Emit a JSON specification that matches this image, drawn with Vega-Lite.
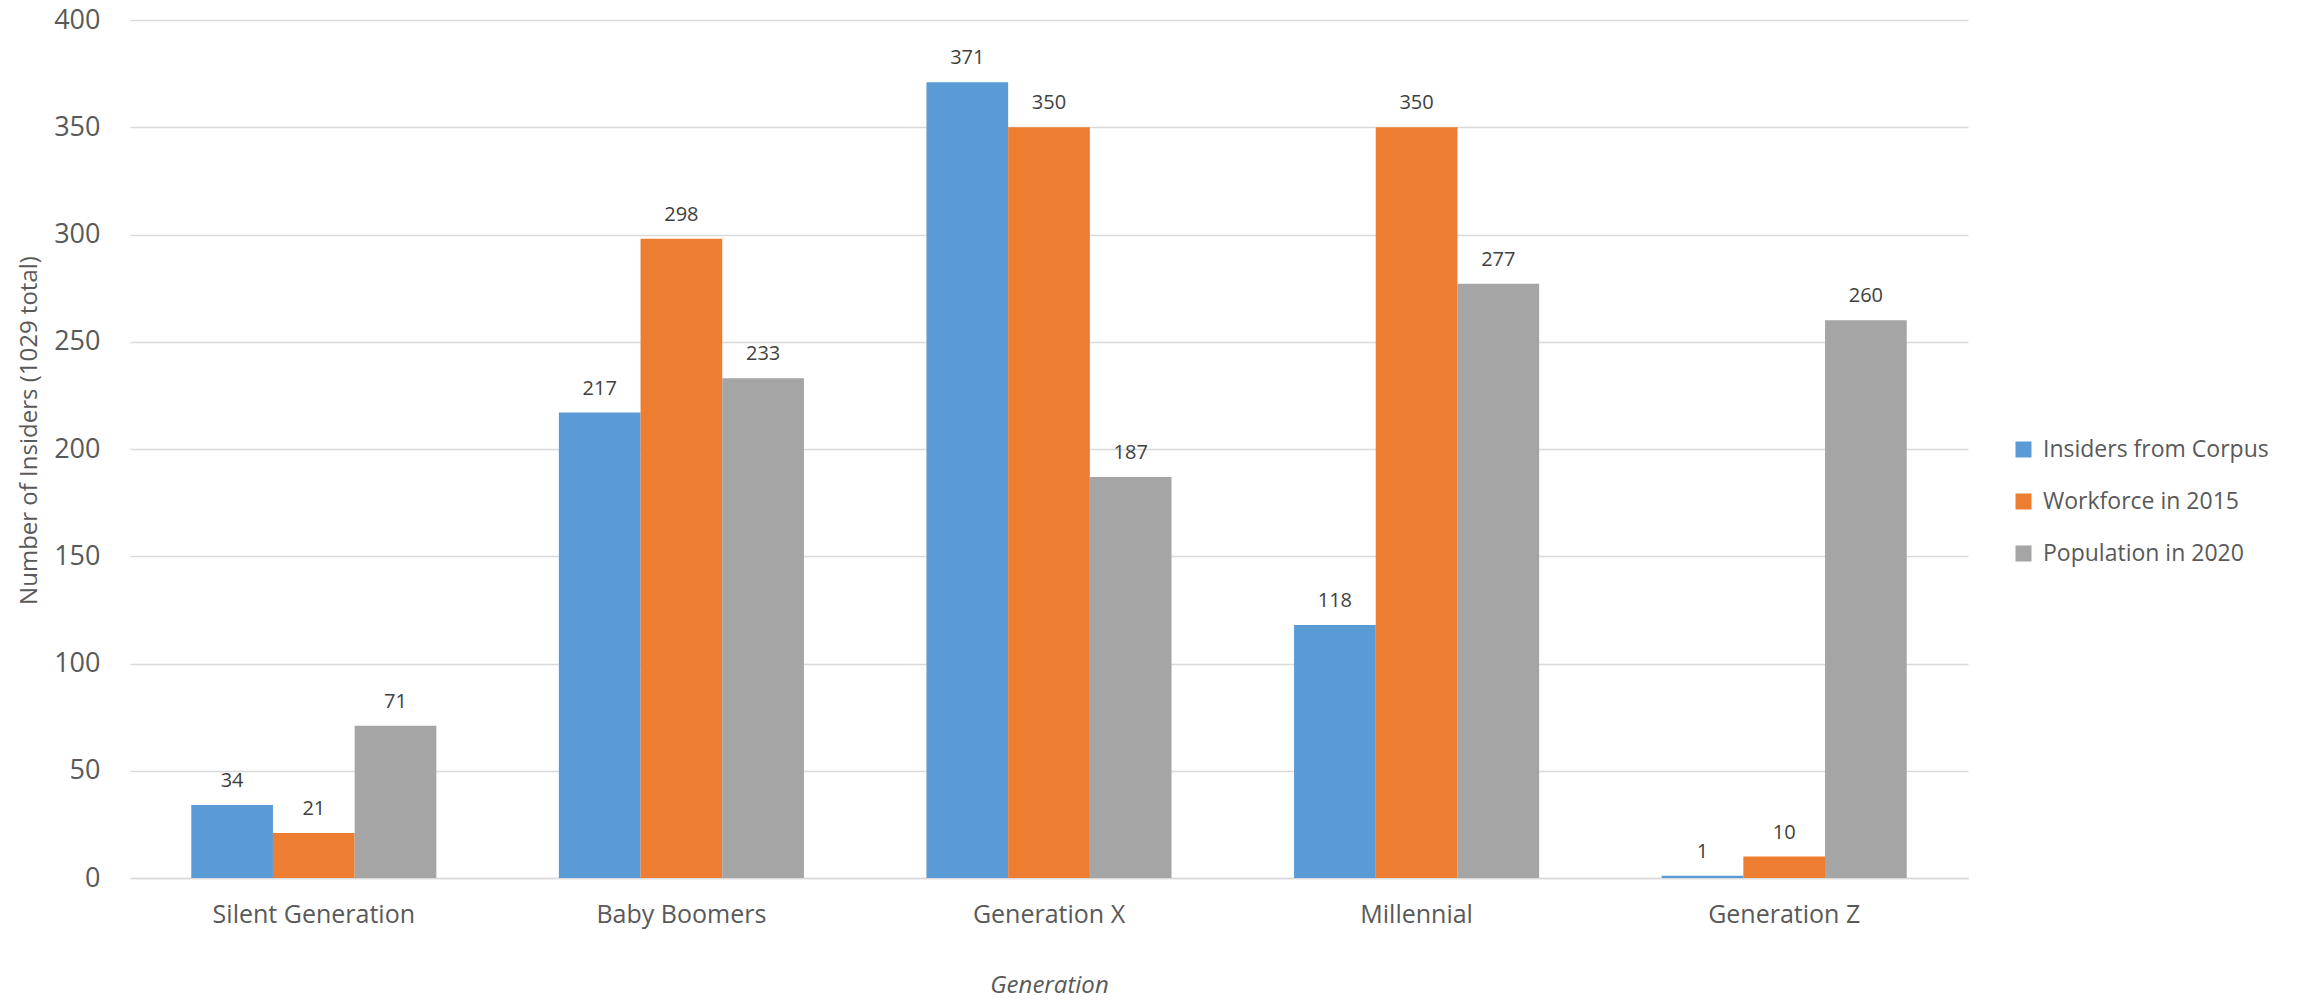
{
  "$schema": "https://vega.github.io/schema/vega-lite/v6.json",
  "autosize": "none",
  "width": 1838,
  "height": 858,
  "padding": {"left": 130, "top": 20, "right": 347, "bottom": 124},
  "background": "white",
  "config": {
    "view": {"stroke": null},
    "font": "Open Sans",
    "axis": {"labelColor": "#595959", "titleColor": "#595959", "labelFont": "Open Sans", "titleFont": "Open Sans"}
  },
  "data": {
    "values": [
      {"generation": "Silent Generation", "series": "Insiders from Corpus", "value": 34},
      {"generation": "Silent Generation", "series": "Workforce in 2015", "value": 21},
      {"generation": "Silent Generation", "series": "Population in 2020", "value": 71},
      {"generation": "Baby Boomers", "series": "Insiders from Corpus", "value": 217},
      {"generation": "Baby Boomers", "series": "Workforce in 2015", "value": 298},
      {"generation": "Baby Boomers", "series": "Population in 2020", "value": 233},
      {"generation": "Generation X", "series": "Insiders from Corpus", "value": 371},
      {"generation": "Generation X", "series": "Workforce in 2015", "value": 350},
      {"generation": "Generation X", "series": "Population in 2020", "value": 187},
      {"generation": "Millennial", "series": "Insiders from Corpus", "value": 118},
      {"generation": "Millennial", "series": "Workforce in 2015", "value": 350},
      {"generation": "Millennial", "series": "Population in 2020", "value": 277},
      {"generation": "Generation Z", "series": "Insiders from Corpus", "value": 1},
      {"generation": "Generation Z", "series": "Workforce in 2015", "value": 10},
      {"generation": "Generation Z", "series": "Population in 2020", "value": 260}
    ]
  },
  "encoding": {
    "x": {
      "field": "generation", "type": "nominal",
      "sort": ["Silent Generation", "Baby Boomers", "Generation X", "Millennial", "Generation Z"],
      "scale": {"paddingInner": 0.3333, "paddingOuter": 0.1667},
      "axis": {
        "title": "Generation", "titleFontStyle": "italic", "titleFontWeight": "normal", "titleFontSize": 24,
        "titlePadding": 46, "labelAngle": 0, "labelFontSize": 25, "labelPadding": 24, "labelLimit": 500,
        "ticks": false, "domainColor": "#D9D9D9", "domainWidth": 1.5
      }
    },
    "xOffset": {"field": "series", "type": "nominal", "sort": ["Insiders from Corpus", "Workforce in 2015", "Population in 2020"], "scale": {"paddingInner": 0, "paddingOuter": 0}},
    "y": {
      "field": "value", "type": "quantitative",
      "scale": {"domain": [0, 400], "nice": false},
      "axis": {
        "title": "Number of Insiders (1029 total)", "titleFontWeight": "normal", "titleFontSize": 24, "titlePadding": 12,
        "titleY": 410,
        "values": [0, 50, 100, 150, 200, 250, 300, 350, 400],
        "labelFontSize": 27, "labelPadding": 30, "ticks": false, "domain": false,
        "gridColor": "#D9D9D9", "gridWidth": 1.5
      }
    }
  },
  "layer": [
    {
      "mark": {"type": "bar"},
      "encoding": {
        "color": {
          "field": "series", "type": "nominal",
          "sort": ["Insiders from Corpus", "Workforce in 2015", "Population in 2020"],
          "scale": {"domain": ["Insiders from Corpus", "Workforce in 2015", "Population in 2020"], "range": ["#5B9BD5", "#ED7D31", "#A5A5A5"]},
          "legend": {
            "title": null, "orient": "none", "legendX": 1882, "legendY": 418,
            "symbolType": "square", "symbolSize": 256, "symbolStrokeWidth": 0,
            "labelFontSize": 23, "labelColor": "#595959", "labelOffset": 8, "rowPadding": 28, "labelLimit": 400,
            "labelFont": "Open Sans"
          }
        }
      }
    },
    {
      "mark": {"type": "text", "dy": -18, "baseline": "alphabetic", "fontSize": 20, "color": "#404040", "font": "Open Sans"},
      "encoding": {"text": {"field": "value", "type": "quantitative"}}
    }
  ]
}
